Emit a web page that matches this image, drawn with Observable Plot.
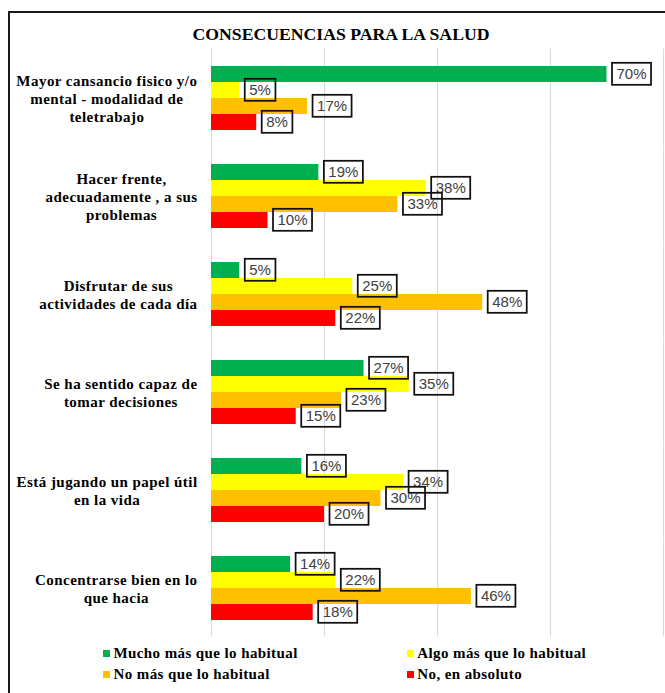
<!DOCTYPE html>
<html>
<head>
<meta charset="utf-8">
<script src="https://cdn.jsdelivr.net/npm/d3@7"></script>
<script src="https://cdn.jsdelivr.net/npm/@observablehq/plot@0.6"></script>
<style>
  html, body { margin: 0; padding: 0; background: #fff; }
  body { width: 665px; height: 693px; overflow: hidden; position: relative; font-family: "Liberation Serif", "Times New Roman", serif; }
  #frame { position: absolute; left: 8px; top: 11px; width: 720px; height: 720px; border-left: 2px solid #1a1a1a; border-top: 2px solid #1a1a1a; box-sizing: border-box; }
  #title { position: absolute; left: 0; width: 682px; top: 25.5px; text-align: center; font-weight: bold; font-size: 17.7px; line-height: 17.7px; color: #000; }
  #chart { position: absolute; left: 0; top: 40px; }
  .lg { position: absolute; font-weight: bold; font-size: 15px; line-height: 15px; letter-spacing: 0.4px; color: #000; white-space: nowrap; }
  .sw { position: absolute; width: 7px; height: 7px; }
</style>
</head>
<body>
<div id="frame"></div>
<div id="title">CONSECUENCIAS PARA LA SALUD</div>
<div id="chart"></div>
<div id="legend"></div>
<script>
const categories = [
  "Mayor cansancio fisico y/o\nmental - modalidad de\nteletrabajo",
  "Hacer frente,\nadecuadamente , a sus\nproblemas",
  "Disfrutar de sus\nactividades de cada día",
  "Se ha sentido capaz de\ntomar decisiones",
  "Está jugando un papel útil\nen la vida",
  "Concentrarse bien en lo\nque hacia"
];
const series = ["Mucho más que lo habitual", "Algo más que lo habitual", "No más que lo habitual", "No, en absoluto"];
const colors = ["#00B050", "#FFFF00", "#FFC000", "#FF0000"];
const mucho = [70, 19, 5, 27, 16, 14];
const algo  = [5, 38, 25, 35, 34, 22];
const noMas = [17, 33, 48, 23, 30, 46];
const noAbs = [8, 10, 22, 15, 20, 18];
const xTicks = [0, 20, 40, 60, 80];

const valuesBySeries = [mucho, algo, noMas, noAbs];
const data = categories.flatMap((c, i) => series.map((s, j) => ({cat: c, series: s, value: valuesBySeries[j][i]})));

// measure category label widths: block right-aligned, lines centered
const letterSp = 0.45;
const ctx = document.createElement("canvas").getContext("2d");
ctx.font = 'bold 15px "Liberation Serif"';
const marginLeft = 211;
const labelRight = 197;
const labelMarks = categories.map((c) => {
  const w = d3.max(c.split("\n"), l => ctx.measureText(l).width + l.length * letterSp);
  const center = labelRight - w / 2;
  return Plot.text([c], {
    fy: d => d, text: d => d, frameAnchor: "left", textAnchor: "middle",
    dx: center - marginLeft, fontFamily: '"Liberation Serif", serif', fontWeight: "bold",
    fontSize: 15, lineHeight: 1.2, fill: "#000"
  });
});

const gapHalf = 15.4;
const chart = Plot.plot({
  width: 665, height: 600,
  marginLeft, marginRight: 2, marginTop: 8, marginBottom: 2,
  x: {domain: [0, 80], axis: null},
  y: {domain: series, padding: 0, axis: null},
  fy: {domain: categories, paddingInner: 0.3124, paddingOuter: 0.152, axis: null},
  color: {domain: series, range: colors},
  marks: [
    Plot.ruleX(xTicks, {x: d => d, insetTop: -gapHalf, insetBottom: -gapHalf, stroke: "#d9d9d9", strokeWidth: 1.2}),
    Plot.barX(data, {fy: "cat", y: "series", x: "value", fill: "series"}),
    Plot.text(data, {fy: "cat", y: "series", x: "value", text: d => d.value + "%", textAnchor: "start", dx: 9.5,
      fill: "#404040", fontFamily: '"Liberation Sans", Arial, sans-serif', fontSize: 15}),
    ...labelMarks
  ]
});
document.getElementById("chart").appendChild(chart);

chart.querySelectorAll("text").forEach(t => {
  if (!/%$/.test(t.textContent)) {
    // category labels: slightly wider tracking like the original
    t.style.letterSpacing = letterSp + "px";
    return;
  }
  // boxes around data labels
  const bb = t.getBBox();
  const r = document.createElementNS("http://www.w3.org/2000/svg", "rect");
  r.setAttribute("x", bb.x - 4.5);
  r.setAttribute("y", bb.y + bb.height / 2 - 11);
  r.setAttribute("width", bb.width + 9);
  r.setAttribute("height", 22);
  r.setAttribute("fill", "none");
  r.setAttribute("stroke", "#111");
  r.setAttribute("stroke-width", 1.75);
  const tr = t.getAttribute("transform");
  if (tr) r.setAttribute("transform", tr);
  t.parentNode.insertBefore(r, t);
});

// legend
const legend = document.getElementById("legend");
const legPos = [[103, 650], [406.8, 650], [103, 671], [406.8, 671]];
series.forEach((s, i) => {
  const [x, y] = legPos[i];
  const sw = document.createElement("div");
  sw.className = "sw";
  sw.style.left = x + "px"; sw.style.top = y + "px"; sw.style.background = colors[i];
  legend.appendChild(sw);
  const tx = document.createElement("div");
  tx.className = "lg";
  tx.style.left = (x + 10.5) + "px"; tx.style.top = (y - 4.3) + "px";
  tx.textContent = s;
  legend.appendChild(tx);
});
</script>
</body>
</html>
